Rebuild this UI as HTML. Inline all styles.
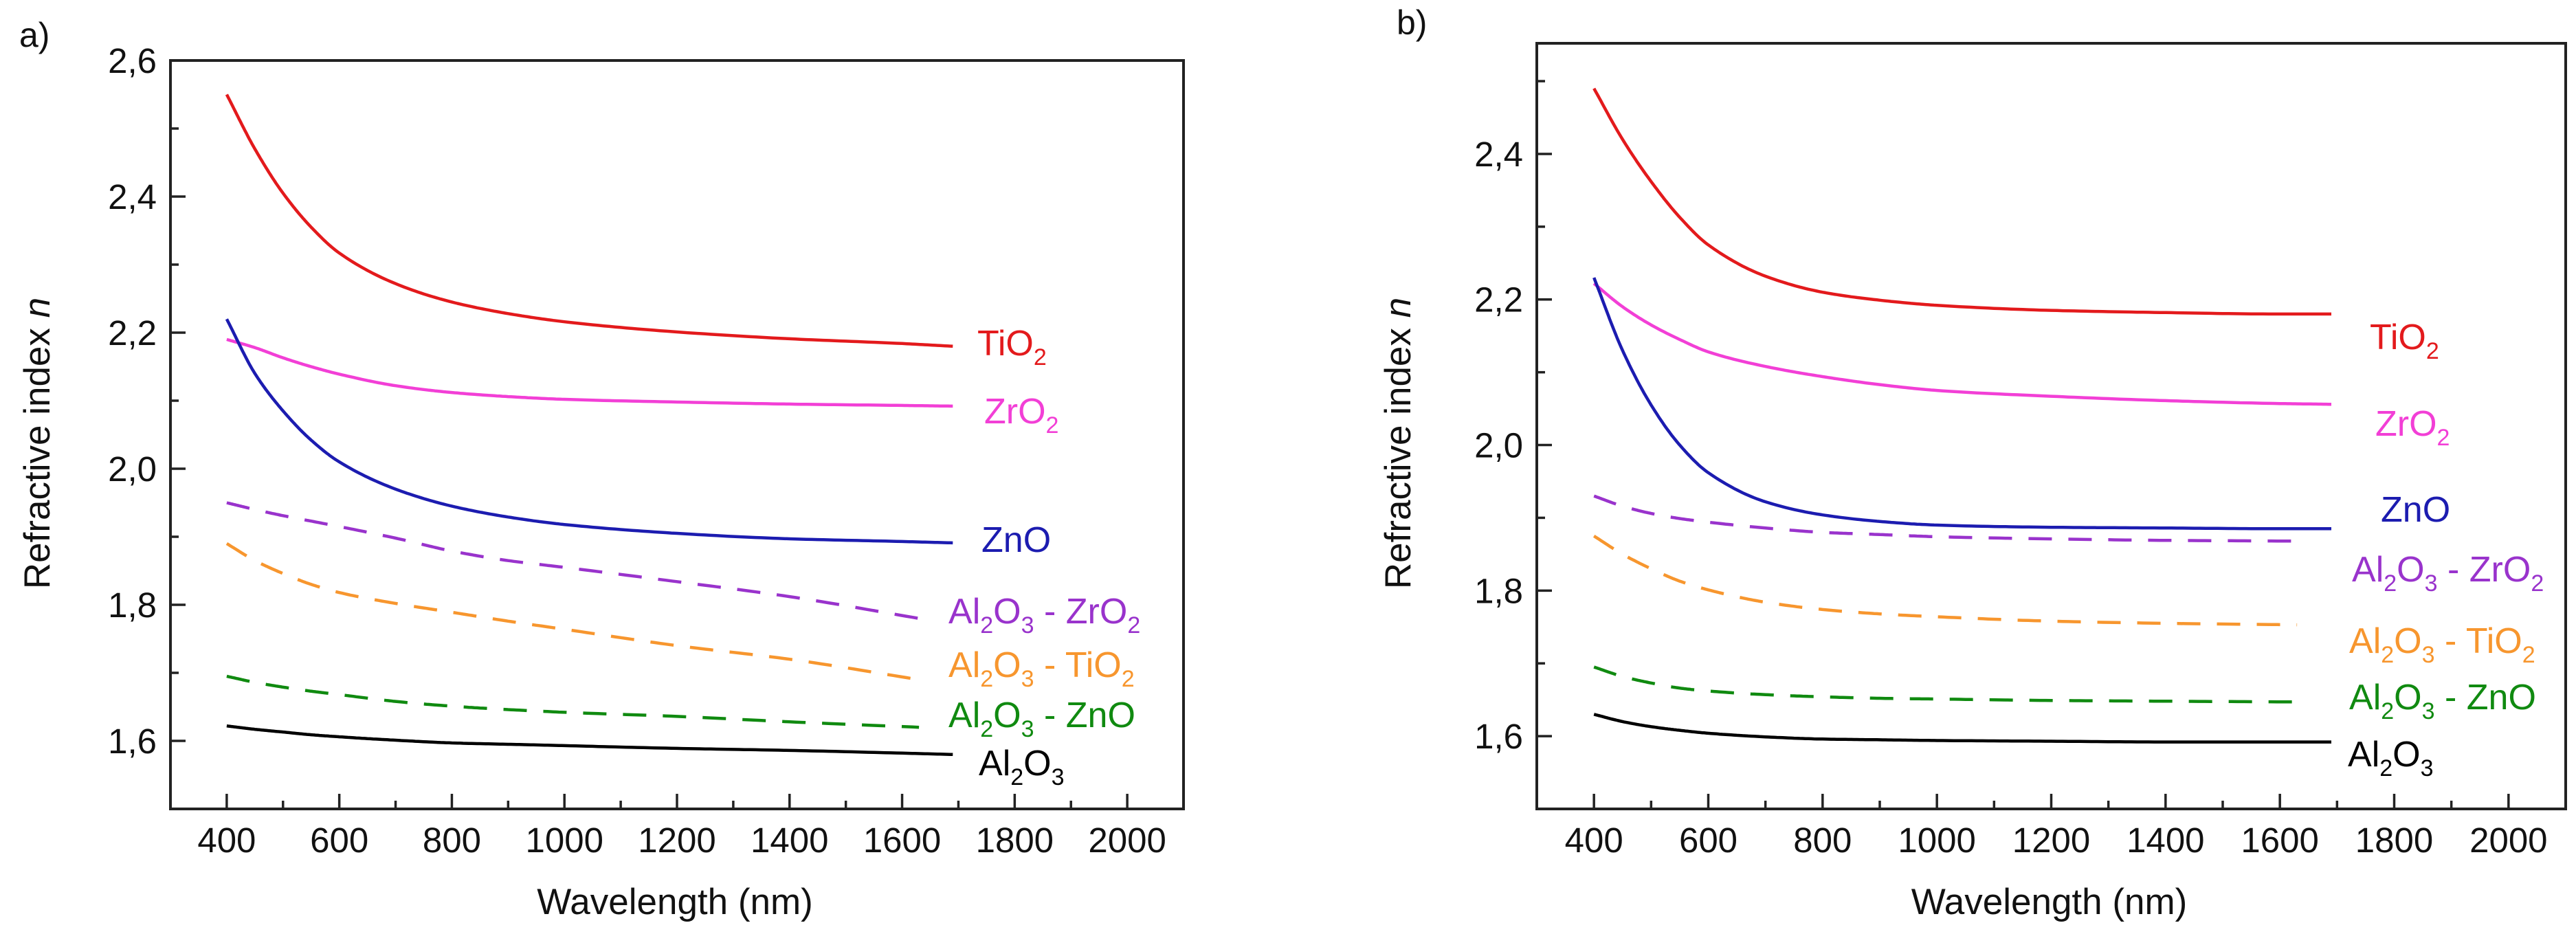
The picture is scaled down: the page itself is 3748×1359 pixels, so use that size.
<!DOCTYPE html>
<html><head><meta charset="utf-8"><style>
html,body{margin:0;padding:0;background:#fff;}
svg{display:block;font-family:"Liberation Sans",Arial,sans-serif;}
</style></head><body>
<svg id="fig" width="3748" height="1359" viewBox="0 0 3748 1359" xmlns="http://www.w3.org/2000/svg"></svg>
<script>
// ---- data ----
const wl = [400,450,500,550,600,700,800,900,1000,1200,1400,1600,1690];
const wlMix = [400,450,500,550,600,700,800,900,1000,1200,1400,1630];
const seriesNames = ["TiO2","ZrO2","ZnO","Al2O3-ZrO2","Al2O3-TiO2","Al2O3-ZnO","Al2O3"];
// panel a
const aTiO2 = [2.55,2.47,2.405,2.355,2.317,2.272,2.245,2.228,2.216,2.201,2.191,2.184,2.18];
const aZrO2 = [2.19,2.178,2.163,2.15,2.139,2.122,2.112,2.106,2.102,2.098,2.095,2.093,2.092];
const aZnO  = [2.22,2.14,2.085,2.042,2.01,1.97,1.945,1.929,1.918,1.905,1.897,1.893,1.891];
const aAlZr = [1.95,1.94,1.931,1.923,1.915,1.898,1.879,1.865,1.855,1.834,1.812,1.78];
const aAlTi = [1.89,1.865,1.846,1.83,1.818,1.802,1.789,1.776,1.764,1.74,1.72,1.69];
const aAlZn = [1.695,1.686,1.679,1.673,1.668,1.658,1.651,1.646,1.642,1.636,1.628,1.62];
const aAl   = [1.622,1.617,1.613,1.609,1.606,1.601,1.597,1.595,1.593,1.589,1.586,1.582,1.58];
// panel b
const bTiO2 = [2.49,2.42,2.362,2.313,2.275,2.232,2.21,2.199,2.192,2.185,2.182,2.18,2.18];
const bZrO2 = [2.222,2.19,2.165,2.145,2.128,2.108,2.094,2.083,2.075,2.067,2.061,2.057,2.056];
const bZnO  = [2.23,2.13,2.055,2.0,1.962,1.922,1.904,1.895,1.89,1.887,1.886,1.885,1.885];
const bAlZr = [1.93,1.916,1.906,1.899,1.894,1.886,1.88,1.877,1.874,1.871,1.869,1.868];
const bAlTi = [1.875,1.85,1.83,1.813,1.801,1.784,1.774,1.768,1.764,1.758,1.755,1.753];
const bAlZn = [1.695,1.682,1.673,1.666,1.662,1.657,1.654,1.652,1.651,1.649,1.648,1.647];
const bAl   = [1.63,1.62,1.613,1.608,1.604,1.599,1.596,1.595,1.594,1.593,1.592,1.592,1.592];
const xTicks = [400,600,800,1000,1200,1400,1600,1800,2000];
const yTicksA = [1.6,1.8,2.0,2.2,2.4,2.6];
const yTicksB = [1.6,1.8,2.0,2.2,2.4];
const yTickLabelsA = ["1,6","1,8","2,0","2,2","2,4","2,6"];
const yTickLabelsB = ["1,6","1,8","2,0","2,2","2,4"];

const NS="http://www.w3.org/2000/svg";
const svg=document.getElementById('fig');
function mk(tag,attrs,parent){const e=document.createElementNS(NS,tag);for(const k in attrs)e.setAttribute(k,attrs[k]);(parent||svg).appendChild(e);return e;}

// monotone cubic (Fritsch-Carlson) sampled densely
function pathD(xs,ys,X,Y){
  const n=xs.length,d=[],m=new Array(n);
  for(let i=0;i<n-1;i++)d.push((ys[i+1]-ys[i])/(xs[i+1]-xs[i]));
  m[0]=d[0];m[n-1]=d[n-2];
  for(let i=1;i<n-1;i++){
    if(d[i-1]*d[i]<=0)m[i]=0;
    else{const h0=xs[i]-xs[i-1],h1=xs[i+1]-xs[i];const w1=2*h1+h0,w2=h1+2*h0;m[i]=(w1+w2)/(w1/d[i-1]+w2/d[i]);}
  }
  let s="M"+X(xs[0]).toFixed(1)+","+Y(ys[0]).toFixed(1);
  for(let i=0;i<n-1;i++){
    const h=xs[i+1]-xs[i];
    for(let k=1;k<=20;k++){
      const t=k/20,t2=t*t,t3=t2*t;
      const v=(2*t3-3*t2+1)*ys[i]+(t3-2*t2+t)*h*m[i]+(-2*t3+3*t2)*ys[i+1]+(t3-t2)*h*m[i+1];
      s+=" L"+X(xs[i]+t*h).toFixed(1)+","+Y(v).toFixed(1);
    }
  }
  return s;
}

function label(g,x,y,parts,color,name){
  const t=mk('text',{x:x,y:y,fill:color,'font-size':52},g);
  
  
  parts.forEach(p=>{
    const s=mk('tspan',{},t);
    if(p[1]){s.setAttribute('font-size',34);s.setAttribute('dy',14);}
    else if(p[2]){s.setAttribute('dy',-14);}
    s.textContent=p[0];
  });
}
function chem(str){
  const out=[];let prevSub=false;
  for(const ch of str){
    if(/[0-9]/.test(ch)){out.push([ch,true,false]);prevSub=true;}
    else{out.push([ch,false,prevSub]);prevSub=false;}
  }
  return out;
}

function panel(cfg){
  const g=mk('g',{});
  
  
  const X=v=>cfg.L+(v-300)/(1800)*(cfg.R-cfg.L);
  const Y=v=>cfg.B-(v-1.5)/(cfg.ymax-1.5)*(cfg.B-cfg.T);
  const cols=["#e31a1c","#f23fd6","#1c1cb0","#9933cc","#f7962e","#108a10","#000"];
  cfg.series.forEach((s,i)=>{
    const dashed=i>=3&&i<=5;
    const xs=s.length===wl.length?wl:wlMix;
    const p=mk('path',{d:pathD(xs,s,X,Y),fill:'none',stroke:cols[i],'stroke-width':4.5,'stroke-linejoin':'round','stroke-dasharray':dashed?'34 24':'none'},g);
    
    
  });
  const f=mk('rect',{x:cfg.L,y:cfg.T,width:cfg.R-cfg.L,height:cfg.B-cfg.T,fill:'none',stroke:'#222','stroke-width':4},g);
  
  
  for(let v=400;v<=2000;v+=100){
    const major=v%200===0;
    const t=mk('line',{x1:X(v),x2:X(v),y1:cfg.B,y2:cfg.B-(major?22:12),stroke:'#222','stroke-width':3.5},g);
    
    
  }
  xTicks.forEach(v=>{
    const t=mk('text',{x:X(v),y:cfg.B+63,'text-anchor':'middle','font-size':51,fill:'#111'},g);
    
    
    t.textContent=v;
  });
  for(let v=1.6;v<cfg.ymax+0.001;v+=0.1){
    const major=Math.round(v*10)%2===0;
    const t=mk('line',{x1:cfg.L,x2:cfg.L+(major?22:12),y1:Y(v),y2:Y(v),stroke:'#222','stroke-width':3.5},g);
    
    
  }
  cfg.yTicks.forEach((v,i)=>{
    const t=mk('text',{x:cfg.L-20,y:Y(v)+18,'text-anchor':'end','font-size':51,fill:'#111'},g);
    
    
    t.textContent=cfg.yLabels[i];
  });
  const xt=mk('text',{x:(cfg.L+cfg.R)/2-3,y:1330,'text-anchor':'middle','font-size':53,fill:'#111'},g);
  
  
  xt.textContent="Wavelength (nm)";
  const yt=mk('text',{x:0,y:0,'text-anchor':'middle','font-size':53,fill:'#111',transform:`translate(${cfg.ytx},645) rotate(-90)`},g);
  
  
  yt.appendChild(document.createTextNode("Refractive index "));
  const it=mk('tspan',{'font-style':'italic'},yt);it.textContent="n";
  const pl=mk('text',{x:cfg.plx,y:cfg.ply,'font-size':50,fill:'#111'},g);
  
  
  pl.textContent=cfg.pl;
  const lp=cfg.labels;
  label(g,lp[0][0],lp[0][1],chem("TiO2"),cols[0],'label-tio2');
  label(g,lp[1][0],lp[1][1],chem("ZrO2"),cols[1],'label-zro2');
  label(g,lp[2][0],lp[2][1],chem("ZnO"),cols[2],'label-zno');
  label(g,lp[3][0],lp[3][1],chem("Al2O3 - ZrO2"),cols[3],'label-al2o3-zro2');
  label(g,lp[4][0],lp[4][1],chem("Al2O3 - TiO2"),cols[4],'label-al2o3-tio2');
  label(g,lp[5][0],lp[5][1],chem("Al2O3 - ZnO"),cols[5],'label-al2o3-zno');
  label(g,lp[6][0],lp[6][1],chem("Al2O3"),cols[6],'label-al2o3');
}

panel({name:'panel-a',L:248,R:1722,T:88,B:1177,ymax:2.6,series:[aTiO2,aZrO2,aZnO,aAlZr,aAlTi,aAlZn,aAl],
  yTicks:yTicksA,yLabels:yTickLabelsA,ytx:72,pl:'a)',plx:28,ply:68,
  labels:[[1422,517],[1432,616],[1428,803],[1380,907],[1380,985],[1380,1058],[1424,1128]]});
panel({name:'panel-b',L:2236,R:3733,T:63,B:1177,ymax:2.552,series:[bTiO2,bZrO2,bZnO,bAlZr,bAlTi,bAlZn,bAl],
  yTicks:yTicksB,yLabels:yTickLabelsB,ytx:2052,pl:'b)',plx:2032,ply:50,
  labels:[[3448,508],[3456,634],[3464,759],[3422,846],[3418,950],[3418,1032],[3416,1115]]});
</script>
</body></html>
